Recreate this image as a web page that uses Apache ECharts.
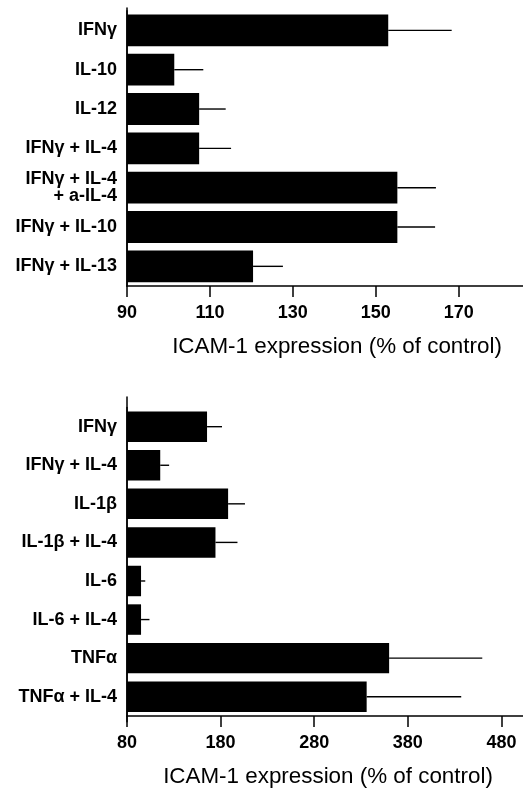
<!DOCTYPE html>
<html>
<head>
<meta charset="utf-8">
<script src="https://cdn.jsdelivr.net/npm/echarts@6/dist/echarts.min.js"></script>
<style>
html,body{margin:0;padding:0;background:#fff;}
#c{width:523px;height:789px;}
</style>
</head>
<body>
<div id="c"></div>
<script>
// Panel A
var catsA = ['IFNγ', 'IL-10', 'IL-12', 'IFNγ + IL-4', 'IFNγ + IL-4\n+ a-IL-4', 'IFNγ + IL-10', 'IFNγ + IL-13'];
var meanA = [153, 101.4, 107.4, 107.4, 155.2, 155.2, 120.4];
var errA  = [168.3, 108.4, 113.8, 115.1, 164.5, 164.3, 127.6];
var ticksA = [90, 110, 130, 150, 170];

// Panel B
var catsB = ['IFNγ', 'IFNγ + IL-4', 'IL-1β', 'IL-1β + IL-4', 'IL-6', 'IL-6 + IL-4', 'TNFα', 'TNFα + IL-4'];
var meanB = [165.5, 115.5, 188, 174.5, 95, 95, 360, 336];
var errB  = [181.5, 125, 206, 198, 99.5, 104, 459.5, 437];
var ticksB = [80, 180, 280, 380, 480];

var axisName = 'ICAM-1 expression (% of control)';
var FONT = '"Liberation Sans", Arial, Helvetica, sans-serif';

function errData(mean, err) {
  return mean.map(function (m, i) { return [i, m, err[i]]; });
}
function renderErr(params, api) {
  var idx = api.value(0);
  var s = api.coord([api.value(1), idx]);
  var e = api.coord([api.value(2), idx]);
  return {
    type: 'line',
    shape: { x1: s[0], y1: s[1], x2: e[0], y2: e[1] },
    style: { stroke: '#000', lineWidth: 1.4 }
  };
}
function xAx(gridIndex, min, max, ticks, pad) {
  return {
    type: 'value', gridIndex: gridIndex, min: min, max: max,
    name: axisName, nameLocation: 'middle', nameGap: 50,
    nameTextStyle: { fontFamily: FONT, fontSize: 22.4, color: '#000', padding: pad },
    axisLine: { show: true, lineStyle: { color: '#000', width: 1.5 } },
    axisTick: { show: true, length: 11, customValues: ticks, lineStyle: { color: '#000', width: 1.5 } },
    axisLabel: { customValues: ticks, margin: 18, fontFamily: FONT, fontSize: 18, fontWeight: 'bold', color: '#000' },
    splitLine: { show: false }
  };
}
function yAx(gridIndex, cats) {
  return {
    type: 'category', gridIndex: gridIndex, data: cats, inverse: true,
    axisLine: { show: true, lineStyle: { color: '#000', width: 1.5 } },
    axisTick: { show: false },
    axisLabel: { margin: 10, fontFamily: FONT, fontSize: 18, fontWeight: 'bold', color: '#000', lineHeight: 17, align: 'right' },
    splitLine: { show: false }
  };
}
// frame axes used only to draw the full-length vertical axis lines
function frameX(gridIndex) {
  return { type: 'value', gridIndex: gridIndex, show: false, min: 0, max: 1 };
}
function frameY(gridIndex) {
  return {
    type: 'value', gridIndex: gridIndex, min: 0, max: 1,
    axisLine: { show: true, lineStyle: { color: '#000', width: 1.5 } },
    axisTick: { show: false }, axisLabel: { show: false }, splitLine: { show: false }
  };
}

var chart = echarts.init(document.getElementById('c'), null, { renderer: 'canvas' });
chart.setOption({
  animation: false,
  backgroundColor: '#fff',
  grid: [
    { left: 127, right: 0, top: 10.7, height: 275.3 },
    { left: 127, right: 0, top: 407.4, height: 314.3 },
    { left: 127, right: 0, top: 8, height: 278 },
    { left: 127, right: 0, top: 397, height: 324.7 }
  ],
  xAxis: [ xAx(0, 90, 185.5, ticksA, [0, 0, 0, 24]), xAx(1, 80, 503, ticksB, [0, 0, 0, 6]), frameX(2), frameX(3) ],
  yAxis: [ yAx(0, catsA), yAx(1, catsB), frameY(2), frameY(3) ],
  series: [
    { type: 'bar', xAxisIndex: 0, yAxisIndex: 0, data: meanA, barCategoryGap: '19%', itemStyle: { color: '#000' }, clip: true },
    { type: 'custom', xAxisIndex: 0, yAxisIndex: 0, data: errData(meanA, errA), encode: { x: [1, 2], y: 0 }, renderItem: renderErr, z: 3 },
    { type: 'bar', xAxisIndex: 1, yAxisIndex: 1, data: meanB, barCategoryGap: '21%', itemStyle: { color: '#000' }, clip: true },
    { type: 'custom', xAxisIndex: 1, yAxisIndex: 1, data: errData(meanB, errB), encode: { x: [1, 2], y: 0 }, renderItem: renderErr, z: 3 }
  ]
});
</script>
</body>
</html>
